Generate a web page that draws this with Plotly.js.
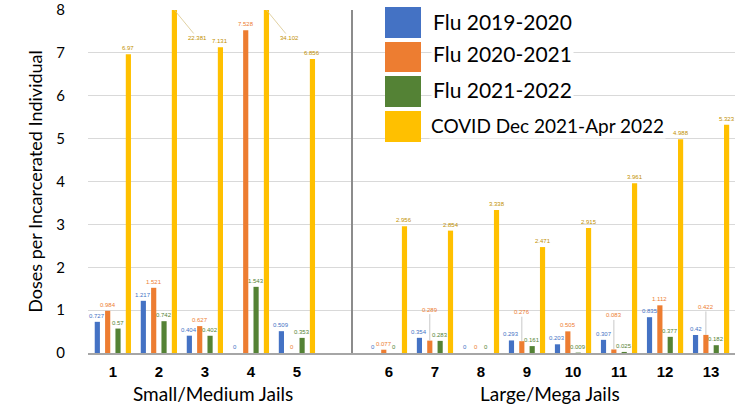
<!DOCTYPE html>
<html><head><meta charset="utf-8">
<script src="https://cdn.plot.ly/plotly-3.0.1.min.js"></script>
<style>html,body{margin:0;padding:0;background:#fff}#chart{width:756px;height:404px}</style>
</head><body><div id="chart"></div>
<script>
// ---- data ----
const categories = ['1','2','3','4','5','6','7','8','9','10','11','12','13'];
const flu2019_2020 = [0.727, 1.217, 0.404, 0, 0.509, 0, 0.354, 0, 0.293, 0.203, 0.307, 0.835, 0.420];
const flu2020_2021 = [0.984, 1.521, 0.627, 7.528, 0, 0.077, 0.289, 0, 0.276, 0.505, 0.083, 1.112, 0.422];
const flu2021_2022 = [0.57, 0.742, 0.402, 1.543, 0.353, 0, 0.283, 0, 0.161, 0.009, 0.025, 0.377, 0.182];
const covid = [6.97, 22.381, 7.131, 34.102, 6.856, 2.956, 2.854, 3.338, 2.471, 2.915, 3.961, 4.988, 5.323];
const seriesNames = ['Flu 2019-2020', 'Flu 2020-2021', 'Flu 2021-2022', 'COVID Dec 2021-Apr 2022'];
const sectionNames = ['Small/Medium Jails', 'Large/Mega Jails'];
const sectionSizes = [5, 8];
const yTicks = [0,1,2,3,4,5,6,7,8];
const yTitle = 'Doses per Incarcerated Individual';

// ---- styling ----
const colors = ['#4472c4', '#ed7d31', '#548235', '#ffc000'];
const labelColors = ['#4472c4', '#ed7d31', '#548235', '#bf9000'];
const W = 756, H = 404, L = 88, R = 21, T = 10, B = 51;
const pw = W - L - R, ph = H - T - B;
const px2x = p => (p - L) / pw;
const py2y = p => (H - B - p) / ph;

// positions: one empty slot between sections
const xpos = categories.map((c, i) => i + (i >= sectionSizes[0] ? 1 : 0));
const series = [flu2019_2020, flu2020_2021, flu2021_2022, covid];
const bargap = 0.1;
const slot = (1 - bargap) / series.length;

const traces = series.map((vals, s) => ({
  type: 'bar', x: xpos, y: vals, name: seriesNames[s],
  marker: {color: colors[s]}, hoverinfo: 'skip', showlegend: false
}));

// leader-line label offsets (pixels) for crowded labels
const leader = {'1-6': -31, '1-8': -29, '1-10': -34, '1-12': -28};

const annotations = [];
series.forEach((vals, s) => {
  vals.forEach((v, j) => {
    const x = xpos[j] + (s - 1.5) * slot;
    const base = {x: x, xref: 'x', yref: 'y', text: String(v),
      font: {family: 'Liberation Sans, Arial', size: 6, color: labelColors[s]}};
    if (v > 8) {
      annotations.push(Object.assign(base, {y: 8, showarrow: true, arrowhead: 0, arrowwidth: 0.8,
        arrowcolor: '#d9c58a', ax: 23, ay: 28, standoff: 0}));
    } else if (leader[s + '-' + j] !== undefined) {
      annotations.push(Object.assign(base, {y: v, showarrow: true, arrowhead: 0, arrowwidth: 1,
        arrowcolor: '#c8c8c8', ax: 0, ay: leader[s + '-' + j], standoff: 0}));
    } else {
      annotations.push(Object.assign(base, {y: v, showarrow: false, yanchor: 'bottom', yshift: 1}));
    }
  });
});

// section titles
const secCenters = [213, 550];
sectionNames.forEach((n, k) => annotations.push({
  text: n, xref: 'paper', yref: 'paper', x: px2x(secCenters[k]), y: py2y(381),
  showarrow: false, xanchor: 'center', yanchor: 'top', borderpad: 0,
  font: {family: 'Lato, Open Sans', size: 19, color: '#000'}
}));

// custom legend
const shapes = [];
const legY = [[7,38],[42,72],[76,107],[111,142]];
const legTextY = [22, 53, 89, 125];
seriesNames.forEach((n, s) => {
  shapes.push({type: 'rect', xref: 'paper', yref: 'paper', layer: 'above',
    x0: px2x(385), x1: px2x(421), y0: py2y(legY[s][1]), y1: py2y(legY[s][0]),
    fillcolor: colors[s], line: {width: 0}});
  annotations.push({text: n, xref: 'paper', yref: 'paper', x: px2x(s === 3 ? 429 : 431), y: py2y(legTextY[s]),
    xanchor: 'left', yanchor: 'middle', showarrow: false, bgcolor: '#fff', borderpad: 1,
    font: {family: 'Lato, Open Sans', size: s === 3 ? 19 : 21, color: '#000'}});
});

// divider between sections
shapes.push({type: 'line', xref: 'paper', yref: 'paper', x0: px2x(352), x1: px2x(352), y0: 0, y1: 1,
  line: {color: '#8c8c8c', width: 2}, layer: 'above'});

const layout = {
  width: W, height: H, margin: {l: L, r: R, t: T, b: B},
  paper_bgcolor: '#fff', plot_bgcolor: '#fff',
  barmode: 'group', bargap: bargap, bargroupgap: 0.5,
  showlegend: false,
  xaxis: {range: [-0.54, 13.52], tickvals: xpos, ticktext: categories, showgrid: false,
    zeroline: false, showline: true, linecolor: '#a6a6a6', linewidth: 2, ticks: '',
    ticklabelstandoff: 4,
    tickfont: {family: 'Liberation Sans, Arial', size: 15, color: '#000', weight: 'bold'}},
  yaxis: {range: [0, 8], tickvals: yTicks, showgrid: true, gridcolor: '#d9d9d9', gridwidth: 1,
    zeroline: false, showline: false, ticks: '', ticklabelstandoff: 22,
    tickfont: {family: 'Lato, Open Sans', size: 15, color: '#000'},
    title: {text: yTitle, font: {family: 'Lato, Open Sans', size: 18, color: '#000'}, standoff: 8}},
  annotations: annotations, shapes: shapes
};
Plotly.newPlot('chart', traces, layout, {staticPlot: true});
</script></body></html>
